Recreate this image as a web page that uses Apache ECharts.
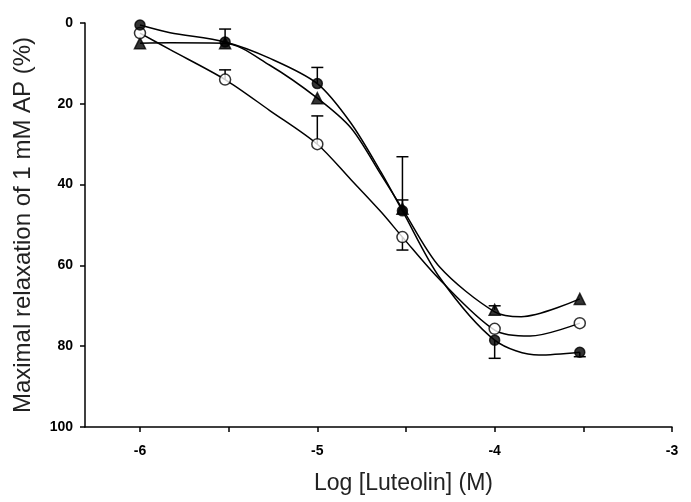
<!DOCTYPE html>
<html>
<head>
<meta charset="utf-8">
<script src="https://cdn.jsdelivr.net/npm/echarts@6/dist/echarts.min.js"></script>
<style>
  html, body { margin: 0; padding: 0; background: #fff; }
  #chart { width: 691px; height: 502px; }
</style>
</head>
<body>
<div id="chart"></div>
<script>
// log concentrations (M)
let xVals = [-6, -5.52, -5, -4.52, -4, -3.52];
// mean relaxation (%) per group
let filledY = [0.5, 4.7, 15, 46.5, 78.5, 81.5];
let openY = [2.5, 14, 30, 53, 75.7, 74.3];
let triY = [5, 5, 18.6, 46, 71, 68.3];
// error bar ends (null = no bar shown)
let filledErr = [null, 1.5, 11, 33.1, 83, 82.6];
let openErr = [null, 11.6, 23, 56.2, null, null];
let triErr = [null, null, null, 43.8, 70, null];
// fitted curves
let filledFit = [[-6, 0.5], [-5.83, 2.4], [-5.52, 4.7], [-5.27, 8.7], [-5, 15], [-4.81, 24.8], [-4.64, 37], [-4.52, 46.5], [-4.31, 63], [-4, 78.5], [-3.75, 82.2], [-3.52, 81.5]];
let openFit = [[-6, 2.5], [-5.83, 6.6], [-5.52, 14], [-5.27, 21.6], [-5, 30], [-4.81, 38.8], [-4.64, 46.8], [-4.52, 53], [-4.31, 63.5], [-4, 76], [-3.8, 77.5], [-3.52, 74.3]];
let triFit = [[-6, 5], [-5.83, 4.9], [-5.52, 5], [-5.27, 10.4], [-5, 18.6], [-4.81, 26], [-4.64, 37.6], [-4.52, 46], [-4.31, 60.4], [-4, 71.5], [-3.85, 72.7], [-3.52, 68.3]];

let xLabels = [-6, -5, -4, -3];
let xTicks = [-6, -5.5, -5, -4.5, -4, -3.5, -3];

let chartDom = document.getElementById('chart');
let myChart = echarts.init(chartDom);

function pts(ys) {
	return xVals.map(function(x, i) {
		return [x, ys[i]];
	});
}

function errs(ys, ends) {
	let out = [];
	xVals.forEach(function(x, i) {
		if (ends[i] !== null) out.push([x, ys[i], ends[i]]);
	});
	return out;
}

function renderErr(params, api) {
	let p0 = api.coord([api.value(0), api.value(1)]);
	let p1 = api.coord([api.value(0), api.value(2)]);
	let st = { stroke: '#000', lineWidth: 1.5 };
	return {
		type: 'group',
		children: [
			{ type: 'line', shape: { x1: p0[0], y1: p0[1], x2: p1[0], y2: p1[1] }, style: st },
			{ type: 'line', shape: { x1: p1[0] - 6, y1: p1[1], x2: p1[0] + 6, y2: p1[1] }, style: st }
		]
	};
}

function fitLine(data) {
	return {
		type: 'line',
		data: data,
		smooth: 0.3,
		showSymbol: false,
		lineStyle: { color: '#000', width: 1.5 },
		z: 2,
		silent: true
	};
}

function marks(data, symbol, size, fill) {
	return {
		type: 'scatter',
		data: data,
		symbol: symbol,
		symbolSize: size,
		itemStyle: { color: fill, borderColor: '#000', borderWidth: 1.5 },
		z: 4
	};
}

let option = {
	animation: false,
	backgroundColor: '#fff',
	grid: {
		left: 85,
		right: 19,
		top: 23,
		bottom: 75
	},
	xAxis: {
		type: 'value',
		position: 'bottom',
		min: -6.31,
		max: -3,
		name: 'Log [Luteolin] (M)',
		nameLocation: 'middle',
		nameGap: 45,
		nameTextStyle: {
			fontFamily: 'Liberation Sans',
			fontSize: 23,
			color: '#222',
			padding: [0, 0, 0, 50]
		},
		axisLine: { onZero: false, lineStyle: { color: '#000', width: 1.5 } },
		axisTick: {
			customValues: xTicks,
			length: 5,
			lineStyle: { color: '#000', width: 1.5 }
		},
		axisLabel: {
			customValues: xLabels,
			margin: 17,
			fontFamily: 'Liberation Sans',
			fontWeight: 'bold',
			fontSize: 14,
			color: '#000'
		},
		splitLine: { show: false }
	},
	yAxis: {
		type: 'value',
		inverse: true,
		min: 0,
		max: 100,
		interval: 20,
		name: 'Maximal relaxation of 1 mM AP (%)',
		nameLocation: 'middle',
		nameGap: 50,
		nameTextStyle: {
			fontFamily: 'Liberation Sans',
			fontSize: 24,
			color: '#222'
		},
		axisLine: { show: true, lineStyle: { color: '#000', width: 1.5 } },
		axisTick: { show: true, length: 5, lineStyle: { color: '#000', width: 1.5 } },
		axisLabel: {
			margin: 12,
			fontFamily: 'Liberation Sans',
			fontWeight: 'bold',
			fontSize: 14,
			color: '#000'
		},
		splitLine: { show: false }
	},
	series: [
		fitLine(filledFit),
		fitLine(openFit),
		fitLine(triFit),
		{ type: 'custom', renderItem: renderErr, data: errs(filledY, filledErr), z: 3 },
		{ type: 'custom', renderItem: renderErr, data: errs(openY, openErr), z: 3 },
		{ type: 'custom', renderItem: renderErr, data: errs(triY, triErr), z: 3 },
		marks(pts(triY), 'triangle', 11, '#000'),
		marks(pts(openY), 'circle', 11, '#fff'),
		marks(pts(filledY), 'circle', 10, '#000')
	]
};

option && myChart.setOption(option);
</script>
</body>
</html>
